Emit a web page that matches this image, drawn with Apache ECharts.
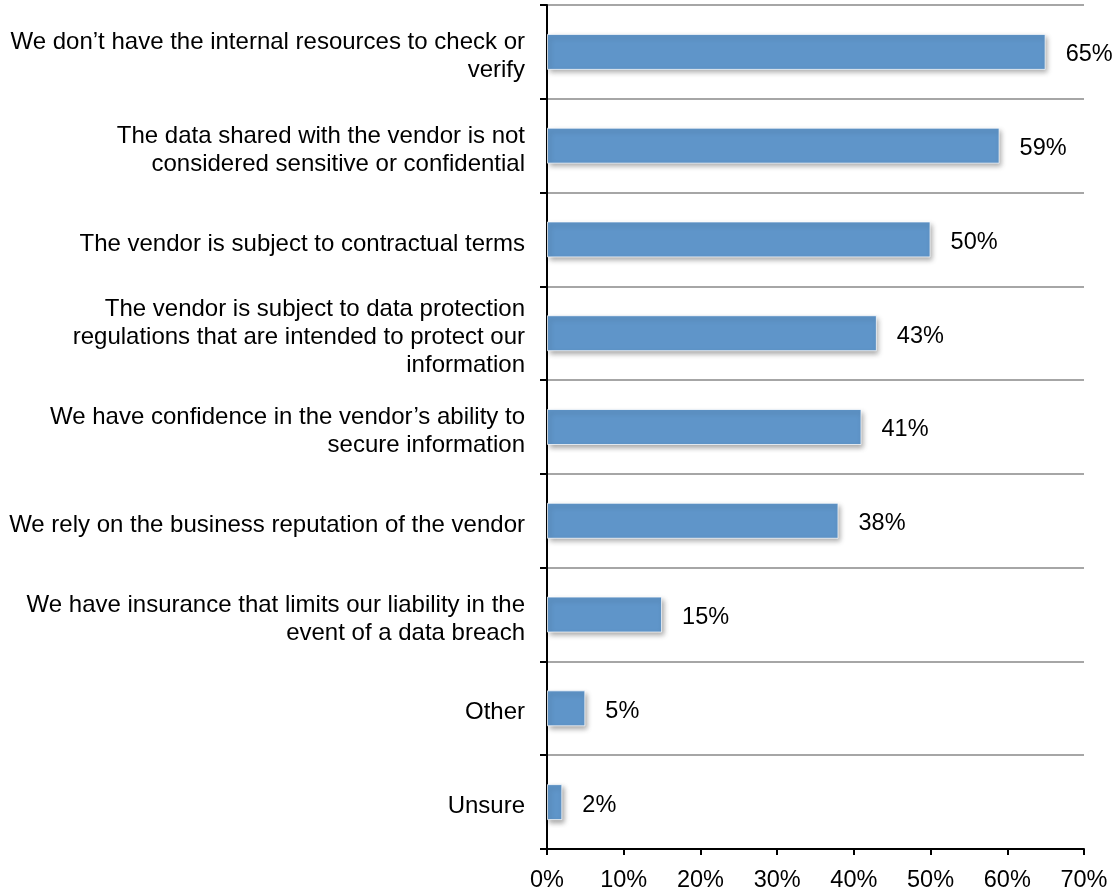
<!DOCTYPE html>
<html>
<head>
<meta charset="utf-8">
<script src="https://cdn.jsdelivr.net/npm/echarts@6/dist/echarts.min.js"></script>
<style>
  html, body { margin: 0; padding: 0; background: #fff; }
  #chart { width: 1117px; height: 895px; }
</style>
</head>
<body>
<div id="chart"></div>
<script>
// Reasons given for not checking the vendor's security (share of respondents)
const categories = [
  'We don\u2019t have the internal resources to check or\nverify',
  'The data shared with the vendor is not\nconsidered sensitive or confidential',
  'The vendor is subject to contractual terms',
  'The vendor is subject to data protection\nregulations that are intended to protect our\ninformation',
  'We have confidence in the vendor\u2019s ability to\nsecure information',
  'We rely on the business reputation of the vendor',
  'We have insurance that limits our liability in the\nevent of a data breach',
  'Other',
  'Unsure'
];
const values = [65, 59, 50, 43, 41, 38, 15, 5, 2];
const xTicks = [0, 10, 20, 30, 40, 50, 60, 70];

const FONT = 'Liberation Sans, Arial, sans-serif';
const chart = echarts.init(document.getElementById('chart'));

// Category text is set a few pixels below the band centre: a short spacer
// line on top pushes the centred text block down.
function categoryLabel(v) {
  return '{s| }\n' + v.split('\n').map(function (l) { return '{t|' + l + '}'; }).join('\n');
}

chart.setOption({
  animation: false,
  backgroundColor: '#ffffff',
  grid: { left: 547, right: 33, top: 5, bottom: 46, containLabel: false },
  xAxis: {
    type: 'value',
    min: xTicks[0],
    max: xTicks[xTicks.length - 1],
    interval: xTicks[1] - xTicks[0],
    axisLine: { show: true, lineStyle: { color: '#000', width: 2 } },
    axisTick: { show: true, length: 6, lineStyle: { color: '#000', width: 2 } },
    splitLine: { show: false },
    axisLabel: {
      formatter: '{value}%',
      color: '#000',
      fontFamily: FONT,
      fontSize: 23.5,
      margin: 20
    }
  },
  yAxis: {
    type: 'category',
    inverse: true,
    data: categories,
    axisLine: { show: true, lineStyle: { color: '#000', width: 2 } },
    axisTick: { show: true, length: 7, lineStyle: { color: '#000', width: 2 } },
    splitLine: { show: true, lineStyle: { color: '#a6a6a6', width: 2 } },
    axisLabel: {
      color: '#000',
      fontFamily: FONT,
      fontSize: 24,
      lineHeight: 28,
      align: 'right',
      margin: 22,
      formatter: categoryLabel,
      rich: {
        s: { fontSize: 4, lineHeight: 9, align: 'right' },
        t: { fontSize: 24, lineHeight: 28, color: '#000', fontFamily: FONT, align: 'right' }
      }
    }
  },
  series: [{
    type: 'bar',
    data: values,
    barWidth: 36,
    itemStyle: {
      color: '#5f95c9',
      borderColor: 'rgba(255,255,255,0.75)',
      borderWidth: 1,
      shadowColor: 'rgba(0,0,0,0.35)',
      shadowBlur: 5,
      shadowOffsetX: 2,
      shadowOffsetY: 3
    },
    label: {
      show: true,
      position: 'right',
      distance: 20,
      offset: [0, 3],
      formatter: '{c}%',
      color: '#000',
      fontFamily: FONT,
      fontSize: 23.5
    }
  }]
});
</script>
</body>
</html>
